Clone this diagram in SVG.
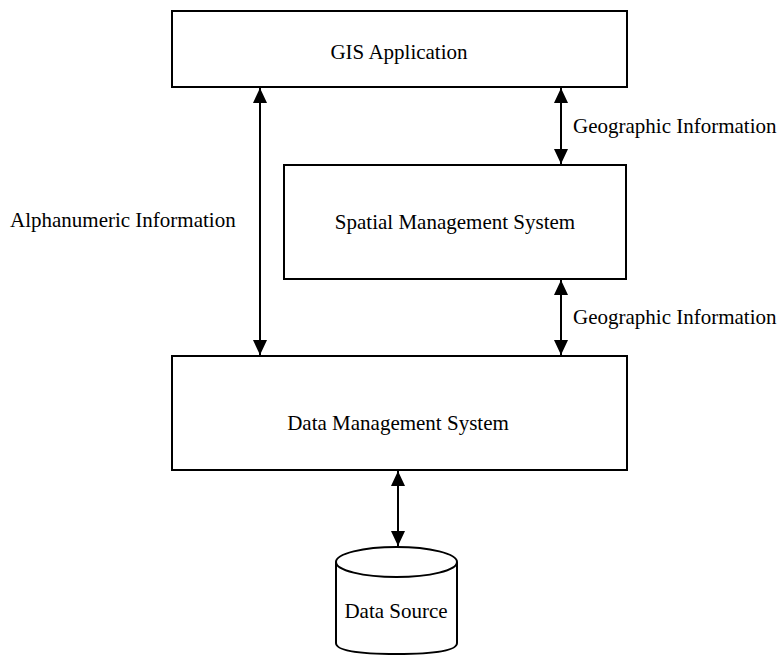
<svg xmlns="http://www.w3.org/2000/svg" width="779" height="657" viewBox="0 0 779 657">
<style>
.box{fill:#fff;stroke:#000;stroke-width:2}
.lbl{font-family:"Liberation Serif","Times New Roman",serif;font-size:21px;fill:#000}
.c{text-anchor:middle}
.conn{stroke:#000;stroke-width:2;fill:none;marker-start:url(#ah);marker-end:url(#ah)}
</style>
<defs>
<marker id="ah" viewBox="0 0 15 14" refX="15" refY="7" markerWidth="15" markerHeight="14" markerUnits="userSpaceOnUse" orient="auto-start-reverse">
<path d="M0,0 L15,7 L0,14 Z" fill="#000"/>
</marker>
</defs>
<rect width="779" height="657" fill="#fff"/>
<g id="gis"><rect class="box" x="172" y="11" width="455" height="76"/><text class="lbl c" x="399" y="59">GIS Application</text></g>
<g id="spatial"><rect class="box" x="284" y="165" width="342" height="114"/><text class="lbl c" x="455" y="229">Spatial Management System</text></g>
<g id="dms"><rect class="box" x="172" y="356" width="455" height="114"/><text class="lbl c" x="398" y="430">Data Management System</text></g>
<g id="source">
<path class="box" d="M336,562 L336,643 Q336,654 396.5,654 Q457,654 457,643 L457,562"/>
<ellipse class="box" cx="396.5" cy="562" rx="60.5" ry="15"/>
<text class="lbl c" x="396" y="618">Data Source</text>
</g>
<g id="connectors">
<line class="conn" x1="260" y1="88" x2="260" y2="355"/>
<line class="conn" x1="561" y1="88" x2="561" y2="164"/>
<line class="conn" x1="561" y1="280" x2="561" y2="355"/>
<line class="conn" x1="398" y1="471" x2="398" y2="546"/>
<text class="lbl" x="10" y="227">Alphanumeric Information</text>
<text class="lbl" x="573" y="133">Geographic Information</text>
<text class="lbl" x="573" y="324">Geographic Information</text>
</g>
</svg>
